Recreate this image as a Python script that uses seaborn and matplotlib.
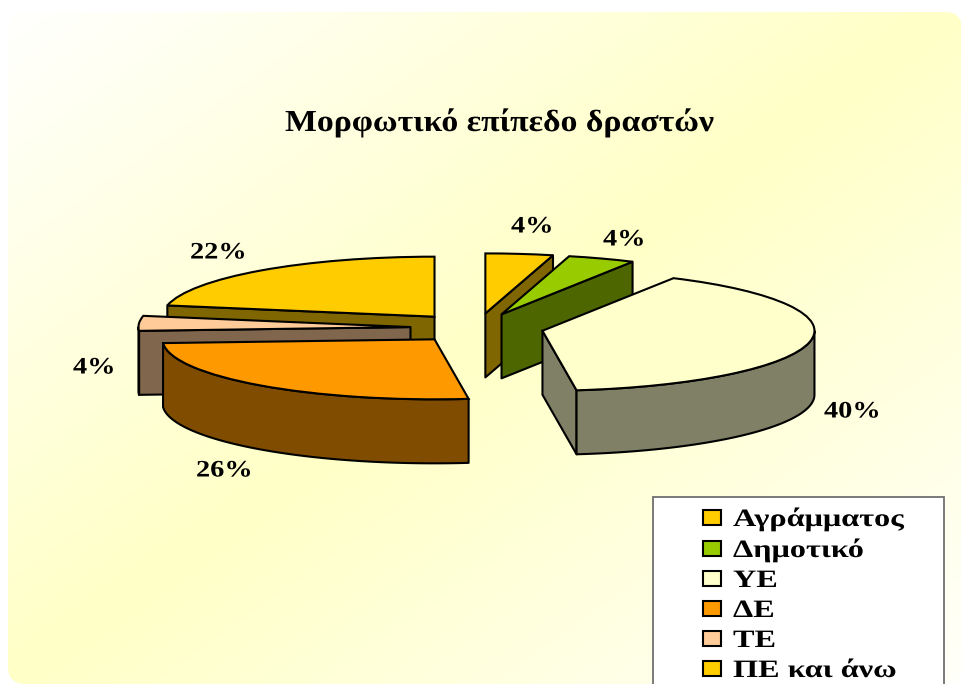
import numpy as np
from matplotlib import pyplot as plt
from matplotlib.colors import to_rgb
from matplotlib.patches import FancyBboxPatch, Rectangle
from matplotlib.patheffects import AbstractPathEffect
from matplotlib.transforms import Affine2D
import seaborn as sns

# Data
categories = ["Αγράμματος", "Δημοτικό", "ΥΕ", "ΔΕ", "ΤΕ", "ΠΕ και άνω"]
shares = [4, 4, 40, 26, 4, 22]
top_colors = ["#FFCC00", "#99CC00", "#FFFFCC", "#FF9900", "#FFCC99", "#FFCC00"]
title = "Μορφωτικό επίπεδο δραστών"

sns.set_theme(style="white")
plt.rcParams['font.family'] = ['Liberation Serif', 'DejaVu Serif']

W, H = 962, 684
CX, CY = 477, 328       # pie centre, pixels
RX, RY = 272, 60        # pixels per unit radius
DEPTH = 64 / RY         # height of the pie in data units
LW = 1.5

# Layout of the percent labels, same order as categories (left edge, centre, pixels)
label_px = [(511, 227), (603, 240), (824, 412), (196, 471), (73, 368), (190, 253)]
draw_order = [0, 1, 5, 4, 3, 2]


class StretchX(AbstractPathEffect):
    """The original text is wider than the font, stretch it from its left edge."""

    def __init__(self, sx):
        super().__init__()
        self.sx = sx

    def draw_path(self, renderer, gc, tpath, affine, rgbFace=None):
        renderer.draw_path(gc, tpath, Affine2D().scale(self.sx, 1) + affine, rgbFace)


def px(x, y):
    return x / W, 1 - y / H


fig = plt.figure(figsize=(W / 100, H / 100), dpi=100, facecolor='white')
ax = fig.add_axes([0, 0, 1, 1])

palette = sns.color_palette(top_colors)
wedges, _ = ax.pie(shares, explode=[0.245] * len(shares), colors=palette, startangle=90,
                   counterclock=False, wedgeprops={'edgecolor': 'black', 'linewidth': LW})

# The pie squashed into an ellipse by the axes limits
ax.set_aspect('auto')
ax.set_xlim(-CX / RX, (W - CX) / RX)
ax.set_ylim(-(H - CY) / RY, CY / RY)
ax.axis('off')

# Background panel with a diagonal gradient
xx, yy = np.meshgrid(np.linspace(0, 1, 300), np.linspace(0, 1, 300))
t = (xx + yy) / 2
blue = np.interp(t, [0, 0.5, 1], [1.0, 0.78, 0.98])
grad = np.dstack([np.ones_like(t), np.ones_like(t), blue])
panel = FancyBboxPatch((8 / W, 0.0), (W - 8) / W, 1 - 12 / H,
                       boxstyle="round,pad=0,rounding_size=0.018", transform=ax.transAxes,
                       mutation_aspect=W / H, facecolor='none', edgecolor='none')
ax.add_patch(panel)
bg = ax.imshow(grad, extent=(*ax.get_xlim(), *ax.get_ylim()), origin='upper', aspect='auto', zorder=0)
bg.set_clip_path(panel)
ax.set_xlim(-CX / RX, (W - CX) / RX)
ax.set_ylim(-(H - CY) / RY, CY / RY)
ax.set_aspect('auto')


def draw_side(xs, ys, color, z):
    xs = np.asarray(xs)
    ys = np.asarray(ys)
    ax.fill(np.r_[xs, xs[::-1]], np.r_[ys, ys[::-1] - DEPTH], facecolor=color,
            edgecolor='black', linewidth=LW, joinstyle='round', zorder=z)


# Sides first, top face on top, slices painted back to front
for rank, i in enumerate(draw_order):
    w = wedges[i]
    z = 2 + rank * 2
    side = tuple(c * 0.5 for c in to_rgb(top_colors[i]))
    x0, y0 = w.center
    t1, t2 = np.radians(w.theta1), np.radians(w.theta2)
    # radial faces, only those turned towards the viewer
    if np.cos(t1) > 1e-6:
        draw_side([x0, x0 + np.cos(t1)], [y0, y0 + np.sin(t1)], side, z)
    if np.cos(t2) < -1e-6:
        draw_side([x0, x0 + np.cos(t2)], [y0, y0 + np.sin(t2)], side, z)
    # outer rim, lower half of the ellipse only
    a = np.linspace(t1, t2, 400)
    a = a[np.sin(a) < 0]
    if len(a) > 1:
        draw_side(x0 + np.cos(a), y0 + np.sin(a), side, z)
    w.set_zorder(z + 1)

# Percent labels
for share, (lx, ly) in zip(shares, label_px):
    ax.text(*px(lx, ly), f"{share}%", transform=ax.transAxes, ha='left', va='center',
            fontsize=17, fontweight='bold', color='black', zorder=30,
            path_effects=[StretchX(1.2)])

ax.text(*px(285, 131), title, transform=ax.transAxes, ha='left', va='baseline',
        fontsize=22, fontweight='bold', color='black', zorder=30,
        path_effects=[StretchX(1.105)])

# Legend box runs off the bottom of the picture
ax.add_patch(Rectangle(px(652.5, 700), 291.5 / W, 203 / H, transform=ax.transAxes,
                       facecolor='white', edgecolor='#707070', linewidth=1.3, zorder=20))
leg = ax.legend(wedges, categories, loc='upper left', bbox_to_anchor=px(703, 507),
                bbox_transform=ax.transAxes, frameon=False, borderpad=0, borderaxespad=0,
                handlelength=0.72, handleheight=0.54, handletextpad=0.48,
                labelspacing=0.28, labelcolor='black', prop={'weight': 'bold', 'size': 18})
leg.set_zorder(31)
for txt in leg.get_texts():
    txt.set_path_effects([StretchX(1.29)])

plt.savefig('out.png', dpi=100)
